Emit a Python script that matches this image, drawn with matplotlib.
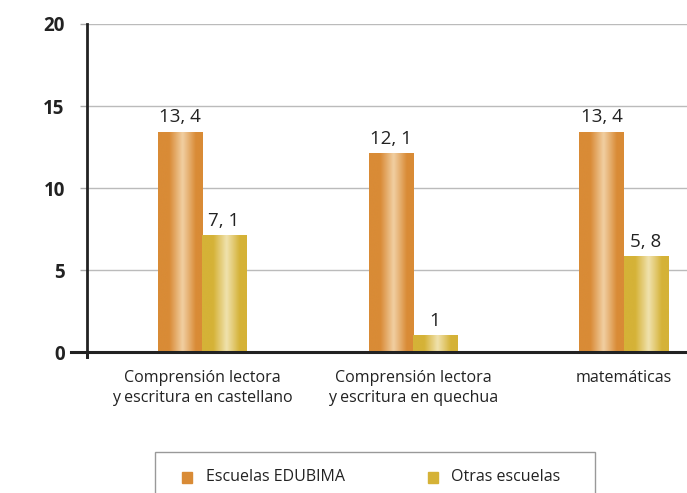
import numpy as np
import matplotlib.pyplot as plt
from matplotlib.colors import LinearSegmentedColormap
from matplotlib.patches import Rectangle

categories = ["Comprensión lectora\ny escritura en castellano",
              "Comprensión lectora\ny escritura en quechua",
              "matemáticas"]
edubima = [13.4, 12.1, 13.4]
otras = [7.1, 1, 5.8]
edubima_labels = ["13, 4", "12, 1", "13, 4"]
otras_labels = ["7, 1", "1", "5, 8"]
yticks = [0, 5, 10, 15, 20]

plt.rcParams['font.family'] = ['Open Sans', 'DejaVu Sans']

orange = "#D98B36"
gold = "#D5B237"
orange_cm = LinearSegmentedColormap.from_list(
    "o", [(0, orange), (0.25, orange), (0.55, "#F1CFA2"), (0.85, orange), (1, orange)])
gold_cm = LinearSegmentedColormap.from_list(
    "g", [(0, gold), (0.25, gold), (0.55, "#F0E2AE"), (0.85, gold), (1, gold)])

fig = plt.figure(figsize=(6.87, 4.93), dpi=100)
ax = fig.add_axes([87 / 687, 1 - 352 / 493, 600 / 687, 328 / 493])

x = np.arange(len(categories))
w = 0.21
grad = np.linspace(0, 1, 64).reshape(1, -1)


def grad_bar(xl, h, cmap):
    ax.imshow(grad, cmap=cmap, aspect="auto", extent=(xl, xl + w, 0, h),
              interpolation="bicubic", zorder=3)


for i in range(len(categories)):
    grad_bar(x[i] - w, edubima[i], orange_cm)
    grad_bar(x[i], otras[i], gold_cm)
    ax.text(x[i] - w / 2, edubima[i] + 0.35, edubima_labels[i], ha="center",
            va="bottom", fontsize=13.5, color="#222222")
    ax.text(x[i] + w / 2, otras[i] + 0.35, otras_labels[i], ha="center",
            va="bottom", fontsize=13.5, color="#222222")

ax.set_xlim(-0.545, 2.3)
ax.set_ylim(0, 20)
ax.set_yticks(yticks)
ax.set_yticklabels([str(t) for t in yticks], fontsize=13.5, fontweight="bold",
                   color="#222222")
ax.tick_params(axis="y", length=5, color="#aaaaaa", width=1, pad=11)
ax.set_xticks(x)
ax.set_xticklabels(categories, fontsize=11.5, color="#222222", linespacing=1.3)
ax.tick_params(axis="x", length=0, pad=13)
ax.yaxis.grid(True, color="#bbbbbb", linewidth=1)
ax.set_axisbelow(True)
for s in ["top", "right", "bottom"]:
    ax.spines[s].set_visible(False)
ax.spines["left"].set_linewidth(2)
ax.spines["left"].set_color("#222222")
ax.spines["left"].set_bounds(-0.3, 20)

# baseline, extending a bit left of the axis
ax.plot([-0.62, 2.3], [0, 0], color="#222222", linewidth=2.2, clip_on=False, zorder=4)
ax.plot([-0.545, -0.545], [-0.3, 0], color="#222222", linewidth=2, clip_on=False)

# legend box
fig.patches.append(Rectangle((155 / 687, -0.05), 440 / 687, 0.05 + 41 / 493,
                             transform=fig.transFigure, fill=False,
                             edgecolor="#999999", linewidth=1))
fig.patches.append(Rectangle((182 / 687, 1 - 483 / 493), 10 / 687, 11 / 493,
                             transform=fig.transFigure, color=orange))
fig.text(206 / 687, 1 - 477 / 493, "Escuelas EDUBIMA", fontsize=11.5,
         va="center", color="#222222")
fig.patches.append(Rectangle((428 / 687, 1 - 483 / 493), 10 / 687, 11 / 493,
                             transform=fig.transFigure, color=gold))
fig.text(451 / 687, 1 - 477 / 493, "Otras escuelas", fontsize=11.5,
         va="center", color="#222222")

fig.savefig("out.png", dpi=100)
